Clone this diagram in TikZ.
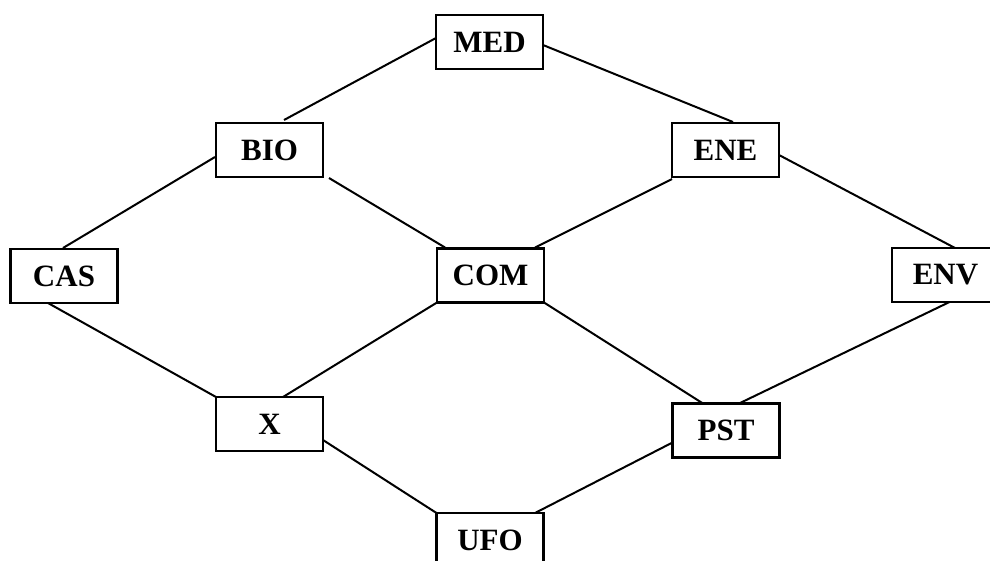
\documentclass[tikz,border=0pt]{standalone}
\usepackage{fontspec}
\setmainfont{Liberation Serif}
\usetikzlibrary{calc}
\tikzset{
  box/.style={draw, line width=2.4pt, rectangle, minimum width=107pt, minimum height=54pt,
    inner sep=0pt, outer sep=0pt, font=\fontsize{31}{31}\selectfont\bfseries},
  link/.style={line width=2pt}
}
\begin{document}
\begin{tikzpicture}[x=1pt,y=-1pt]
\useasboundingbox (0,0) rectangle (990,560);
\node[box] (MED) at (489.5,42) {MED};
\node[box] (BIO) at (269.5,150) {BIO};
\node[box] (ENE) at (725.5,150) {ENE};
\node[box] (CAS) at (64,276) {CAS};
\node[box] (COM) at (490.5,275.5) {COM};
\node[box] (ENV) at (945.5,275) {ENV};
\node[box] (X) at (269.5,424) {X};
\node[box] (PST) at (726,430.5) {PST};
\node[box] (UFO) at (490,540) {UFO};

\draw[link] ($(MED.west)+(0,-4)$) -- ($(BIO.north)+(14.5,-3)$);
\draw[link] ($(MED.east)+(0,3)$) -- ($(ENE.north)+(7.5,-1)$);
\draw[link] ($(BIO.west)+(-1,7)$) -- ($(CAS.north)+(-1,-1)$);
\draw[link] ($(BIO.south east)+(6,1)$) -- ($(COM.north west)+(8,-1)$);
\draw[link] ($(ENE.south west)+(0,2)$) -- ($(COM.north east)+(-9,-1)$);
\draw[link] ($(ENE.east)+(0,5)$) -- ($(ENV.north)+(9.5,0)$);
\draw[link] ($(CAS.south)+(-16,0)$) -- (X.north west);
\draw[link] (COM.south west) -- ($(X.north)+(13.5,0)$);
\draw[link] (COM.south east) -- ($(PST.north)+(-23,0)$);
\draw[link] ($(ENV.south)+(4,0)$) -- ($(PST.north)+(13,0)$);
\draw[link] ($(PST.west)+(0,12)$) -- ($(UFO.north)+(45,0)$);
\draw[link] ($(X.east)+(0,16)$) -- (UFO.north west);
\end{tikzpicture}
\end{document}
